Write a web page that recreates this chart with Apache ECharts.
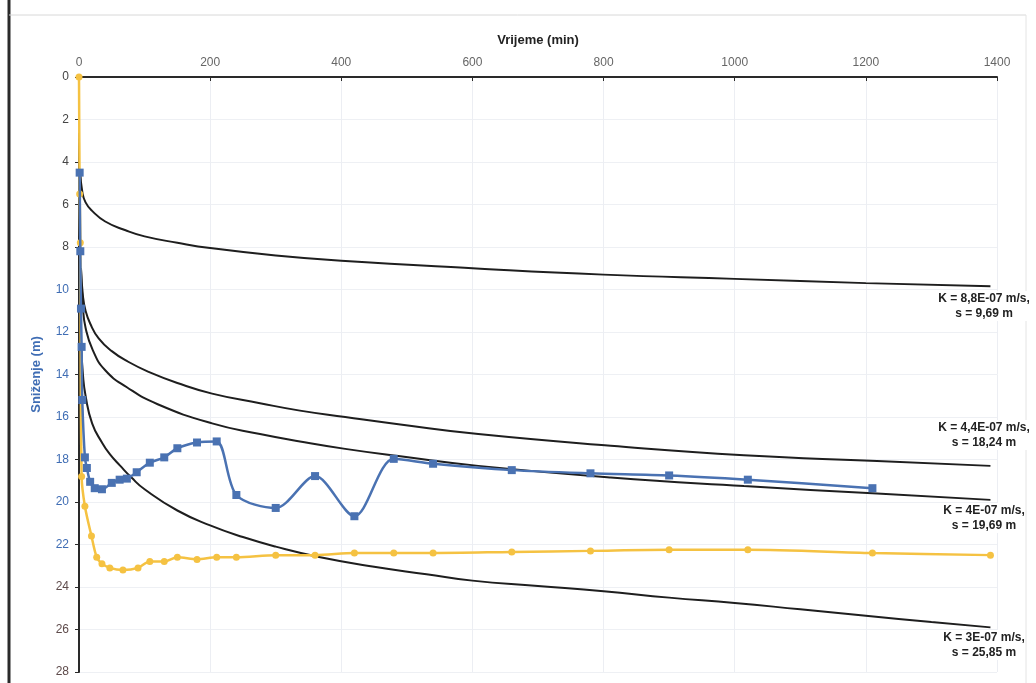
<!DOCTYPE html>
<html>
<head>
<meta charset="utf-8">
<script src="https://cdn.jsdelivr.net/npm/echarts@6/dist/echarts.min.js"></script>
<style>
  html, body { margin: 0; padding: 0; background: #fff; }
  #main { width: 1036px; height: 683px; }
</style>
</head>
<body>
<div id="main"></div>
<script>
// podaci ocitani s grafa: [vrijeme (min), snizenje (m)]
var xTicks = [0, 200, 400, 600, 800, 1000, 1200, 1400];

// izmjereno - plava serija
var mjerenje1 = [
  [1, 4.5], [2, 8.2], [3, 10.9], [4, 12.7], [5, 15.2], [9, 17.9], [12, 18.4],
  [17, 19.05], [24, 19.35], [35, 19.4], [50, 19.1], [62, 18.95], [73, 18.9],
  [88, 18.6], [108, 18.15], [130, 17.9], [150, 17.47], [180, 17.2], [210, 17.15],
  [240, 19.67], [300, 20.28], [360, 18.78], [420, 20.67], [480, 17.97], [540, 18.2],
  [660, 18.5], [780, 18.65], [900, 18.75], [1020, 18.95], [1210, 19.35]
];

// izmjereno - zuta serija
var mjerenje2 = [
  [0, 0], [1, 5.5], [2, 7.8], [4, 18.8], [9, 20.2], [19, 21.6], [27, 22.6],
  [35, 22.9], [47, 23.1], [67, 23.2], [90, 23.1], [108, 22.8], [130, 22.8],
  [150, 22.6], [180, 22.7], [210, 22.6], [240, 22.6], [300, 22.5], [360, 22.5],
  [420, 22.4], [480, 22.4], [540, 22.4], [660, 22.35], [780, 22.3], [900, 22.25],
  [1020, 22.25], [1210, 22.4], [1390, 22.5]
];

// teorijske krivulje
var krivulja1 = [
  [2, 4.5], [5, 5.4], [10, 5.9], [20, 6.3], [40, 6.8], [70, 7.2], [100, 7.5],
  [150, 7.8], [200, 8.05], [300, 8.4], [400, 8.65], [600, 9.0], [800, 9.3],
  [1000, 9.5], [1200, 9.7], [1390, 9.85]
];
var krivulja2 = [
  [3, 9.0], [6, 10.3], [10, 11.0], [17, 11.6], [30, 12.3], [50, 12.9], [75, 13.4],
  [108, 13.9], [150, 14.4], [203, 14.9], [276, 15.35], [337, 15.7], [406, 16.0],
  [490, 16.35], [609, 16.8], [811, 17.35], [1014, 17.8], [1217, 18.07], [1390, 18.3]
];
var krivulja3 = [
  [3, 9.0], [6, 10.8], [10, 11.8], [21, 12.85], [40, 13.8], [73, 14.6], [120, 15.4],
  [203, 16.3], [276, 16.8], [337, 17.15], [406, 17.5], [490, 17.85], [609, 18.3],
  [811, 18.85], [1014, 19.25], [1217, 19.6], [1390, 19.9]
];
var krivulja4 = [
  [3, 12.5], [6, 14.0], [10, 15.0], [20, 16.3], [35, 17.2], [47, 17.75], [63, 18.3],
  [80, 18.85], [100, 19.4], [150, 20.4], [200, 21.1], [250, 21.65], [300, 22.1],
  [368, 22.6], [450, 23.05], [530, 23.4], [600, 23.7], [700, 23.95], [800, 24.2],
  [900, 24.5], [1000, 24.75], [1100, 25.05], [1200, 25.35], [1300, 25.65], [1390, 25.9]
];

var oznake = [
  ['K = 8,8E-07 m/s,', 's = 9,69 m'],
  ['K = 4,4E-07 m/s,', 's = 18,24 m'],
  ['K = 4E-07 m/s,', 's = 19,69 m'],
  ['K = 3E-07 m/s,', 's = 25,85 m']
];
var oznakeY = [306, 435, 518, 645];

var myChart = echarts.init(document.getElementById('main'));

function krivulja(data) {
  return {
    type: 'line',
    data: data,
    smooth: 0.5,
    symbol: 'none',
    lineStyle: { color: '#1e1e1e', width: 2 },
    z: 2
  };
}

// boje oznaka na y osi kao na skenu
function bojaY(value) {
  var v = Number(value);
  if (v <= 8) return '#444';
  if (v <= 22) return '#3f6db4';
  return '#5e4b4b';
}

var graphic = [
  // okvir
  { type: 'line', z: 100, shape: { x1: 9, y1: 0, x2: 9, y2: 683 }, style: { stroke: '#2a2a2a', lineWidth: 3 } },
  { type: 'line', z: 100, shape: { x1: 9, y1: 15, x2: 1026, y2: 15 }, style: { stroke: '#d8d8d8', lineWidth: 1 } },
  { type: 'line', z: 100, shape: { x1: 1026, y1: 15, x2: 1026, y2: 683 }, style: { stroke: '#e4e4e4', lineWidth: 1 } }
];
oznake.forEach(function (o, i) {
  graphic.push({
    type: 'text',
    z: 100,
    x: 984,
    y: oznakeY[i],
    style: {
      text: o[0] + '\n' + o[1],
      fill: '#222',
      backgroundColor: '#fff',
      font: 'bold 12px "Liberation Sans", Arial, sans-serif',
      textAlign: 'center',
      textVerticalAlign: 'middle',
      lineHeight: 15
    }
  });
});

var option = {
  animation: false,
  backgroundColor: '#fff',
  grid: { left: 79, right: 39, top: 77, bottom: 11 },
  xAxis: {
    type: 'value',
    position: 'top',
    min: xTicks[0],
    max: xTicks[xTicks.length - 1],
    interval: 200,
    name: 'Vrijeme (min)',
    nameLocation: 'middle',
    nameGap: 30,
    nameTextStyle: { fontSize: 13, fontWeight: 'bold', color: '#222', fontFamily: 'Liberation Sans' },
    axisLine: { lineStyle: { color: '#2a2a2a', width: 2 } },
    axisTick: { inside: true, length: 4, lineStyle: { color: '#2a2a2a' } },
    axisLabel: {
      color: '#666', fontSize: 12, margin: 8, fontFamily: 'Liberation Sans',
      formatter: function (v) { return String(v); }
    },
    splitLine: { show: true, lineStyle: { color: '#eceef3' } }
  },
  yAxis: {
    type: 'value',
    inverse: true,
    min: 0,
    max: 28,
    interval: 2,
    name: 'Sniženje (m)',
    nameLocation: 'middle',
    nameRotate: 90,
    nameGap: 36,
    nameTextStyle: { fontSize: 13, fontWeight: 'bold', color: '#3f6db4', fontFamily: 'Liberation Sans' },
    axisLine: { lineStyle: { color: '#2a2a2a', width: 2 } },
    axisTick: { length: 4, lineStyle: { color: '#2a2a2a' } },
    axisLabel: { color: bojaY, fontSize: 12, margin: 10, fontFamily: 'Liberation Sans' },
    splitLine: { show: true, lineStyle: { color: '#eef0f4' } }
  },
  graphic: graphic,
  series: [
    krivulja(krivulja1),
    krivulja(krivulja2),
    krivulja(krivulja3),
    krivulja(krivulja4),
    {
      type: 'line',
      data: mjerenje2,
      smooth: 0.3,
      symbol: 'circle',
      symbolSize: 7,
      itemStyle: { color: '#f5c242' },
      lineStyle: { color: '#f5c242', width: 2.5 },
      z: 3
    },
    {
      type: 'line',
      data: mjerenje1,
      smooth: 0.3,
      symbol: 'rect',
      symbolSize: 8,
      itemStyle: { color: '#4a72b2' },
      lineStyle: { color: '#4a72b2', width: 2.5 },
      z: 4
    }
  ]
};

myChart.setOption(option);
</script>
</body>
</html>
